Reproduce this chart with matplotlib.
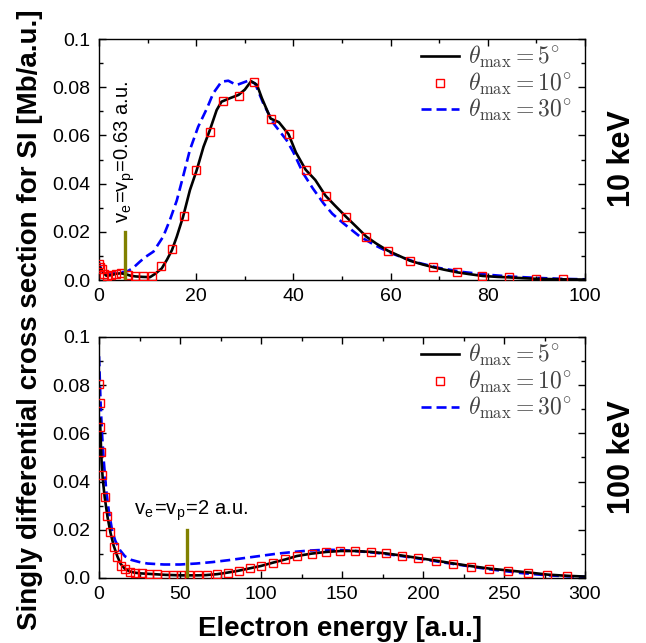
import matplotlib
matplotlib.use("Agg")
import matplotlib.pyplot as plt
from matplotlib.ticker import MultipleLocator

plt.rcParams["font.family"] = ["Liberation Sans", "DejaVu Sans"]
plt.rcParams["mathtext.fontset"] = "cm"

# 10 keV panel
e10_t5 = [0, 0.5, 1, 1.5, 2.5, 3.5, 4.5, 5.5, 6.5, 7.5, 9, 10.5, 11.5, 12.9, 14, 15,
          16, 17.3, 18.7, 20.1, 21.5, 22.8, 24.2, 25.2, 27, 28.7, 30, 31.3, 32.5,
          33.5, 35.3, 37, 39, 40.5, 42.5, 44.5, 46.6, 48.5, 50.8, 53, 55, 57, 59.4,
          62, 64, 66.5, 68.8, 71, 73.7, 76, 78.9, 82, 84.4, 87, 90, 95, 100]
sdcs10_t5 = [0.0055, 0.0045, 0.0028, 0.0018, 0.002, 0.0026, 0.0028, 0.0024, 0.0018,
             0.0015, 0.0013, 0.0012, 0.0025, 0.0048, 0.0085, 0.0124, 0.018, 0.0263,
             0.0373, 0.0456, 0.0553, 0.0622, 0.0705, 0.074, 0.0755, 0.0768, 0.079,
             0.0825, 0.081, 0.0755, 0.067, 0.0655, 0.0605, 0.053, 0.0458, 0.0415,
             0.035, 0.031, 0.0263, 0.022, 0.018, 0.0152, 0.0122, 0.0098, 0.008,
             0.0065, 0.0053, 0.0043, 0.0032, 0.0025, 0.0017, 0.0013, 0.0011, 0.0008,
             0.0005, 0.0003, 0.0002]

e10_t10 = [0, 0.3, 0.55, 1.1, 1.6, 2.5, 3.5, 4.5, 6.0, 7.5, 9.1, 10.8, 12.8, 15.1,
           17.4, 20.0, 22.8, 25.6, 28.7, 31.9, 35.3, 39.0, 42.5, 46.6, 50.8, 54.9,
           59.4, 64.0, 68.8, 73.7, 78.9, 84.4, 89.9, 95.4]
sdcs10_t10 = [0.0065, 0.0055, 0.0045, 0.0025, 0.0017, 0.002, 0.0025, 0.0028, 0.002,
              0.0018, 0.0017, 0.0018, 0.0058, 0.013, 0.0267, 0.0455, 0.0616, 0.0743,
              0.0765, 0.082, 0.067, 0.0605, 0.0458, 0.035, 0.0263, 0.018, 0.0122,
              0.008, 0.0053, 0.0032, 0.0017, 0.0011, 0.0005, 0.0003]

e10_t30 = [0, 0.5, 1, 2, 3, 4, 5, 6, 7, 8.4, 9.5, 11.2, 13.2, 14.6, 16.0, 17.3,
           18.7, 20.4, 22.2, 23.5, 25.2, 26.6, 28.3, 30.7, 32.1, 33.8, 35.9, 38.6,
           40, 42, 44, 46.2, 48, 50.3, 53.7, 57, 60, 65, 70, 75, 80, 85, 90, 95, 100]
sdcs10_t30 = [0.0072, 0.004, 0.0025, 0.0028, 0.003, 0.0032, 0.0033, 0.0038, 0.005,
              0.0076, 0.0095, 0.0118, 0.018, 0.025, 0.033, 0.043, 0.054, 0.0636,
              0.0712, 0.0775, 0.0823, 0.0827, 0.0809, 0.0827, 0.0816, 0.0733, 0.065,
              0.058, 0.053, 0.0443, 0.038, 0.0318, 0.0275, 0.0235, 0.018, 0.0142,
              0.0112, 0.0075, 0.005, 0.0033, 0.0022, 0.0014, 0.0009, 0.0005, 0.0003]

# 100 keV panel
e100_t5 = [0.6, 1.0, 1.6, 2.3, 3.5, 5.2, 7, 9, 11.3, 13.4, 16, 19, 22, 26, 31, 36,
           41, 46, 50, 56, 61, 66, 73, 79, 86, 93, 100, 107, 115, 122, 131, 140,
           149, 158, 168, 177, 187, 197, 208, 219, 230, 241, 253, 265, 277, 289, 300]
sdcs100_t5 = [0.066, 0.058, 0.048, 0.041, 0.0335, 0.0255, 0.019, 0.0135, 0.009,
              0.0058, 0.0038, 0.0027, 0.0022, 0.0019, 0.0017, 0.0015, 0.0013,
              0.0012, 0.0011, 0.0011, 0.0011, 0.0012, 0.0016, 0.0022, 0.003, 0.004,
              0.005, 0.0063, 0.0077, 0.0091, 0.0101, 0.0108, 0.0112, 0.0112, 0.0108,
              0.0102, 0.0093, 0.0083, 0.0072, 0.006, 0.0049, 0.0039, 0.0031, 0.0023,
              0.0014, 0.0009, 0.0006]

e100_t10 = [0.1, 0.5, 0.7, 1.2, 2.0, 3.5, 5.2, 7.0, 9.0, 11.3, 13.4, 16.0, 19.1,
            22.2, 26.3, 31, 36, 40.7, 45.9, 50.4, 55.7, 60.9, 66.5, 72.6, 79.4, 86.4,
            93.2, 100, 107.2, 114.8, 122.4, 131.3, 139.9, 149, 158.3, 167.7, 177.2,
            187.2, 197.1, 208, 218.7, 229.6, 240.9, 252.7, 264.6, 276.7, 288.7]
sdcs100_t10 = [0.0805, 0.0727, 0.0628, 0.0524, 0.0427, 0.0337, 0.0258, 0.019,
               0.013, 0.0086, 0.0051, 0.0036, 0.0026, 0.0022, 0.0019, 0.0017, 0.0015,
               0.0012, 0.0012, 0.0011, 0.0011, 0.0011, 0.0012, 0.0017, 0.0022, 0.003,
               0.004, 0.005, 0.0063, 0.0077, 0.0093, 0.0101, 0.0109, 0.0111, 0.0112,
               0.0107, 0.0102, 0.0091, 0.0082, 0.007, 0.0059, 0.0047, 0.0037, 0.003,
               0.0022, 0.0011, 0.0008]

e100_t30 = [0, 0.5, 1, 2, 3, 4.5, 6, 8, 10, 13, 16, 20, 25, 30, 40, 50, 60, 70, 80,
            90, 100, 110, 120, 130, 140, 150, 160, 170, 180, 190, 200, 210, 220,
            230, 240, 250, 260, 270, 280, 290, 300]
sdcs100_t30 = [0.092, 0.082, 0.072, 0.058, 0.048, 0.036, 0.028, 0.020, 0.0155,
               0.0115, 0.009, 0.0075, 0.0066, 0.006, 0.0056, 0.0056, 0.006, 0.0066,
               0.0074, 0.0083, 0.0092, 0.0101, 0.0108, 0.0114, 0.0117, 0.0116,
               0.0111, 0.0105, 0.0097, 0.0088, 0.0078, 0.0067, 0.0057, 0.0047,
               0.0037, 0.0029, 0.0021, 0.0015, 0.001, 0.0007, 0.0005]

ytick_vals = [0.0, 0.02, 0.04, 0.06, 0.08, 0.1]
ytick_labels = ["0.0", "0.02", "0.04", "0.06", "0.08", "0.1"]

# v_e = v_p markers: (energy, bar height, label)
vmark10 = (5.35, 0.02, r"v$_\mathregular{e}$=v$_\mathregular{p}$=0.63 a.u.")
vmark100 = (54.5, 0.02, r"v$_\mathregular{e}$=v$_\mathregular{p}$=2 a.u.")

fig = plt.figure(figsize=(6.46, 6.43), dpi=100)
ax1 = fig.add_axes([0.1533, 0.5645, 0.7523, 0.3748])
ax2 = fig.add_axes([0.1533, 0.1011, 0.7523, 0.3748])


def draw_panel(ax, e5, s5, e10, s10, e30, s30, xmax, xmaj, xmin):
    ax.plot(e5, s5, color="black", lw=1.9, label=r"$\theta_{\max} = 5^{\circ}$", zorder=3)
    ax.plot(e10, s10, ls="none", marker="s", ms=5.6, mfc="none", mec="red", mew=1.0,
            label=r"$\theta_{\max} = 10^{\circ}$", zorder=4)
    ax.plot(e30, s30, color="blue", lw=1.9, ls=(0, (3.8, 1.9)),
            label=r"$\theta_{\max} = 30^{\circ}$", zorder=2)
    ax.set_xlim(0, xmax)
    ax.set_ylim(0, 0.1)
    ax.xaxis.set_major_locator(MultipleLocator(xmaj))
    ax.xaxis.set_minor_locator(MultipleLocator(xmin))
    ax.yaxis.set_minor_locator(MultipleLocator(0.01))
    ax.set_yticks(ytick_vals)
    ax.set_yticklabels(ytick_labels)
    ax.tick_params(which="both", direction="in", top=True, right=True, labelsize=14,
                   width=1.0, pad=6)
    ax.tick_params(which="major", length=5)
    ax.tick_params(which="minor", length=3)
    for sp in ax.spines.values():
        sp.set_linewidth(1.0)
    leg = ax.legend(loc="upper right", bbox_to_anchor=(0.99, 1.012), frameon=False,
                    fontsize=17, handlelength=1.6, handletextpad=0.4,
                    labelspacing=0.02, borderaxespad=0.0, borderpad=0.35)
    for t in leg.get_texts():
        t.set_color("#444444")


draw_panel(ax1, e10_t5, sdcs10_t5, e10_t10, sdcs10_t10, e10_t30, sdcs10_t30, 100, 20, 10)
draw_panel(ax2, e100_t5, sdcs100_t5, e100_t10, sdcs100_t10, e100_t30, sdcs100_t30, 300, 50, 25)

olive = "#808000"
ax1.plot([vmark10[0], vmark10[0]], [0, vmark10[1]], color=olive, lw=2.4, zorder=5)
ax1.text(vmark10[0], 0.0235, vmark10[2], rotation=90, ha="center", va="bottom", fontsize=14.5)
ax2.plot([vmark100[0], vmark100[0]], [0, vmark100[1]], color=olive, lw=2.4, zorder=5)
ax2.text(21.6, 0.0262, vmark100[2], ha="left", va="baseline", fontsize=14.5)

fig.text(0.046, 0.502, "Singly differential cross section for SI [Mb/a.u.]",
         rotation=90, ha="center", va="center", fontsize=20, fontweight="bold")
fig.text(0.527, 0.022, "Electron energy [a.u.]", ha="center", va="center",
         fontsize=20, fontweight="bold")
fig.text(0.963, 0.753, "10 keV", rotation=90, ha="center", va="center",
         fontsize=22, fontweight="bold")
fig.text(0.963, 0.289, "100 keV", rotation=90, ha="center", va="center",
         fontsize=22, fontweight="bold")

fig.savefig("out.png", dpi=100)
